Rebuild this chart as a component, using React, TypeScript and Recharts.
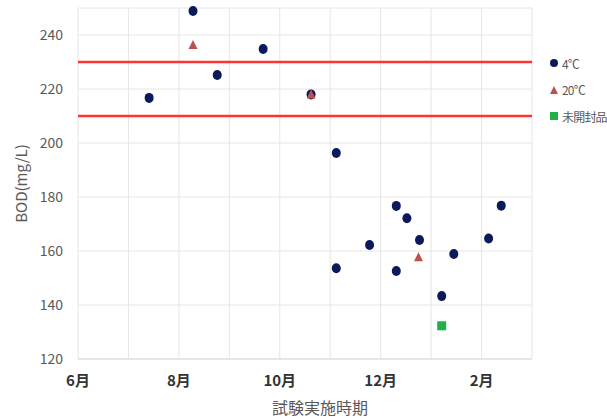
import { ScatterChart, Scatter, XAxis, YAxis, CartesianGrid, ReferenceLine } from 'recharts'

// month index: 6 = 6月 ... 12 = 12月, 13 = 1月, 14 = 2月
const cold4 = [
  { month: 7.41, bod: 216.7 },
  { month: 8.28, bod: 248.9 },
  { month: 8.76, bod: 225.2 },
  { month: 9.67, bod: 234.8 },
  { month: 10.62, bod: 218.0 },
  { month: 11.12, bod: 196.3 },
  { month: 11.12, bod: 153.6 },
  { month: 11.78, bod: 162.2 },
  { month: 12.31, bod: 176.7 },
  { month: 12.52, bod: 172.1 },
  { month: 12.31, bod: 152.6 },
  { month: 12.77, bod: 164.1 },
  { month: 13.21, bod: 143.3 },
  { month: 13.45, bod: 158.9 },
  { month: 14.14, bod: 164.6 },
  { month: 14.39, bod: 176.8 },
]

const warm20 = [
  { month: 8.28, bod: 236.3 },
  { month: 10.62, bod: 218.0 },
  { month: 12.75, bod: 157.7 },
]

const unopened = [{ month: 13.21, bod: 132.3 }]

const monthTicks = [6, 7, 8, 9, 10, 11, 12, 13, 14, 15]
const bodTicks = [120, 140, 160, 180, 200, 220, 240]
const limits = [230, 210]

const NAVY = '#0c1a5b'
const RED = '#c0504d'
const GREEN = '#1fb04a'
const GREY = '#595959'

const monthLabel = (m: number) => (m % 2 === 0 ? `${((m - 1) % 12) + 1}月` : '')

const Dot = (p: any) => <ellipse cx={p.cx} cy={p.cy} rx={4.5} ry={5} fill={NAVY} />
const Tri = (p: any) => (
  <polygon points={`${p.cx},${p.cy - 5} ${p.cx - 4.5},${p.cy + 4} ${p.cx + 4.5},${p.cy + 4}`} fill={RED} />
)
const Sq = (p: any) => <rect x={p.cx - 4.5} y={p.cy - 4.5} width={9} height={9} fill={GREEN} />

const legendItems = [
  { label: '4℃', kind: 'dot' },
  { label: '20℃', kind: 'tri' },
  { label: '未開封品', kind: 'sq' },
]

function LegendBox() {
  return (
    <div style={{ position: 'absolute', left: 549, top: 50, fontSize: 12, letterSpacing: -0.8, color: GREY, whiteSpace: 'nowrap' }}>
      {legendItems.map((it, i) => (
        <div key={i} style={{ display: 'flex', alignItems: 'center', height: 26.5 }}>
          <svg width={10} height={10} style={{ marginRight: 3 }}>
            {it.kind === 'dot' && <circle cx={5} cy={5} r={4} fill={NAVY} />}
            {it.kind === 'tri' && <polygon points="5,1 1,9 9,9" fill={RED} />}
            {it.kind === 'sq' && <rect x={1} y={1} width={8} height={8} fill={GREEN} />}
          </svg>
          <span>{it.label}</span>
        </div>
      ))}
    </div>
  )
}

export default function App() {
  return (
    <div style={{ position: 'absolute', left: 0, top: 0, width: 607, height: 419, overflow: 'hidden', fontFamily: '"Noto Sans CJK JP", "Noto Sans", sans-serif' }}>
      <ScatterChart width={607} height={419} margin={{ top: 8, right: 75, bottom: 0, left: 0 }}>
        <CartesianGrid stroke="#e6e6e6" />
        <XAxis
          type="number"
          dataKey="month"
          domain={[6, 15]}
          ticks={monthTicks}
          tickFormatter={monthLabel}
          interval={0}
          tickLine={false}
          axisLine={{ stroke: '#d9d9d9' }}
          tick={{ fill: '#333', fontSize: 15, fontWeight: 700 }}
          tickMargin={10}
          height={60}
          label={{ value: '試験実施時期', position: 'insideBottom', offset: 5, dx: 15, fill: GREY, fontSize: 16 }}
        />
        <YAxis
          type="number"
          dataKey="bod"
          domain={[120, 250]}
          ticks={bodTicks}
          axisLine={false}
          tickLine={false}
          tick={{ fill: GREY, fontSize: 14 }}
          width={78}
          tickMargin={9}
          label={{ value: 'BOD(mg/L)', angle: -90, position: 'insideLeft', offset: 22, fill: GREY, fontSize: 15, style: { textAnchor: 'middle' } }}
        />
        {limits.map((v) => (
          <ReferenceLine key={v} y={v} stroke="#ff3333" strokeWidth={2.5} />
        ))}
        <Scatter name="4℃" data={cold4} shape={Dot} isAnimationActive={false} />
        <Scatter name="20℃" data={warm20} shape={Tri} isAnimationActive={false} />
        <Scatter name="未開封品" data={unopened} shape={Sq} isAnimationActive={false} />
      </ScatterChart>
      <LegendBox />
    </div>
  )
}
